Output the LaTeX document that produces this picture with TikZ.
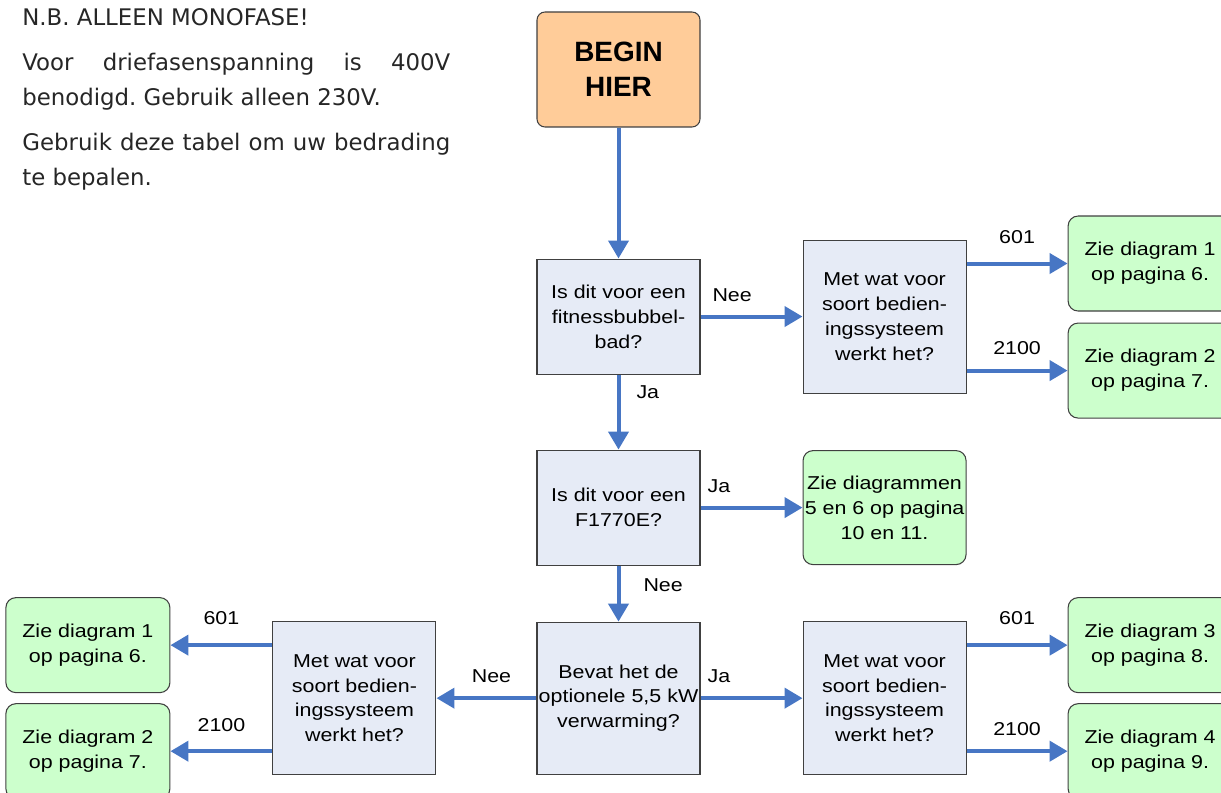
\documentclass[tikz,border=0pt]{standalone}
\usepackage{fontspec}
\setmainfont{Liberation Sans}
\newfontfamily\notefont{DejaVu Sans}
\newfontfamily\boxfont[FakeStretch=1.15]{Liberation Sans}
\usepackage{xcolor}
\usetikzlibrary{arrows.meta, positioning}

\definecolor{flowblue}{HTML}{4776C4}
\definecolor{askfill}{HTML}{E6EBF6}
\definecolor{beginfill}{HTML}{FFCC99}
\definecolor{resultfill}{HTML}{CCFFCC}
\definecolor{boxedge}{HTML}{404040}
\hyphenpenalty=10000
\exhyphenpenalty=10000
\frenchspacing

\begin{document}
\begin{tikzpicture}[
    node distance=1.5cm and 2.04cm,
    box/.style={draw=boxedge, line width=0.6pt, inner sep=0pt, align=center, minimum width=3.26cm,
      font=\boxfont\fontsize{10.6}{14.2}\selectfont},
    beginbox/.style={box, rounded corners=0.16cm, fill=beginfill, minimum height=2.30cm,
      font=\fontsize{15.9}{20}\selectfont\bfseries},
    askbox/.style={box, fill=askfill, minimum height=2.30cm},
    systembox/.style={box, fill=askfill, minimum height=3.06cm},
    resultbox/.style={box, rounded corners=0.2cm, fill=resultfill, minimum width=3.28cm, minimum height=1.90cm},
    arrow/.style={-{Triangle[length=0.36cm, width=0.4cm]}, line width=0.08cm, flowblue},
    edgelbl/.style={font=\boxfont\fontsize{10.6}{14.2}\selectfont, inner sep=0pt, text=black},
    note/.style={font=\notefont\fontsize{13}{19.9}\selectfont, text width=8.56cm, align=justify,
      inner sep=0pt, anchor=base west, text=black!85},
  ]
  \useasboundingbox (0,0) rectangle (24.42,-15.86);
  \clip (0,0) rectangle (24.42,-15.86);

  % Note top left
  \node[note] (note) at (0.44,-0.52) {N.B. ALLEEN MONOFASE!\par\vspace{0.2cm}
    Voor driefasenspanning is 400V benodigd. Gebruik alleen 230V.\par\vspace{0.2cm}
    Gebruik deze tabel om uw bedrading te bepalen.};

  % Main column
  \node[beginbox] (begin) at (12.37,-1.39) {BEGIN\\HIER};
  \node[askbox, below=2.62cm of begin] (fitness) {Is dit voor een\\fitnessbubbel-\\bad?};
  \node[askbox, below=1.50cm of fitness] (f1770) {Is dit voor een\\F1770E?};
  \node[askbox, minimum height=3.04cm, below=1.12cm of f1770] (heater) {Bevat het de\\optionele 5,5 kW\\verwarming?};

  % Control system questions
  \node[systembox, right=2.04cm of fitness] (systop) {Met wat voor\\soort bedien-\\ingssysteem\\werkt het?};
  \node[systembox, left=2cm of heater] (sysleft) {Met wat voor\\soort bedien-\\ingssysteem\\werkt het?};
  \node[systembox, right=2.04cm of heater] (sysright) {Met wat voor\\soort bedien-\\ingssysteem\\werkt het?};

  % Results
  \node[resultbox, minimum width=3.26cm, minimum height=2.28cm, right=2.04cm of f1770] (diag56) {Zie diagrammen\\5 en 6 op pagina\\10 en 11.};
  \node[resultbox, above right=0.1cm and 2.02cm of systop.east] (diag1top) {Zie diagram 1\\op pagina 6.};
  \node[resultbox, below right=0.12cm and 2.02cm of systop.east] (diag2top) {Zie diagram 2\\op pagina 7.};
  \node[resultbox, above left=0.1cm and 2.04cm of sysleft.west] (diag1left) {Zie diagram 1\\op pagina 6.};
  \node[resultbox, below left=0.1cm and 2.04cm of sysleft.west] (diag2left) {Zie diagram 2\\op pagina 7.};
  \node[resultbox, above right=0.1cm and 2.02cm of sysright.east] (diag3) {Zie diagram 3\\op pagina 8.};
  \node[resultbox, below right=0.1cm and 2.02cm of sysright.east] (diag4) {Zie diagram 4\\op pagina 9.};

  % Arrows down the main column
  \draw[arrow] (begin) -- (fitness);
  \draw[arrow] (fitness) -- node[edgelbl, pos=0.24, right=0.32cm] {Ja} (f1770);
  \draw[arrow] (f1770) -- node[edgelbl, pos=0.35, right=0.46cm] {Nee} (heater);

  % Arrows sideways
  \draw[arrow] (fitness) -- node[edgelbl, pos=0.31, above=0.26cm] {Nee} (systop);
  \draw[arrow] (f1770) -- node[edgelbl, pos=0.18, above=0.26cm] {Ja} (diag56);
  \draw[arrow] (heater) -- node[edgelbl, pos=0.45, above=0.26cm] {Nee} (sysleft);
  \draw[arrow] (heater) -- node[edgelbl, pos=0.18, above=0.26cm] {Ja} (sysright);

  % Control system to diagram
  \draw[arrow] (systop.east |- diag1top.west) -- node[edgelbl, above=0.35cm] {601} (diag1top.west);
  \draw[arrow] (systop.east |- diag2top.west) -- node[edgelbl, above=0.27cm] {2100} (diag2top.west);
  \draw[arrow] (sysleft.west |- diag1left.east) -- node[edgelbl, above=0.37cm] {601} (diag1left.east);
  \draw[arrow] (sysleft.west |- diag2left.east) -- node[edgelbl, above=0.36cm] {2100} (diag2left.east);
  \draw[arrow] (sysright.east |- diag3.west) -- node[edgelbl, above=0.37cm] {601} (diag3.west);
  \draw[arrow] (sysright.east |- diag4.west) -- node[edgelbl, above=0.27cm] {2100} (diag4.west);

\end{tikzpicture}
\end{document}
